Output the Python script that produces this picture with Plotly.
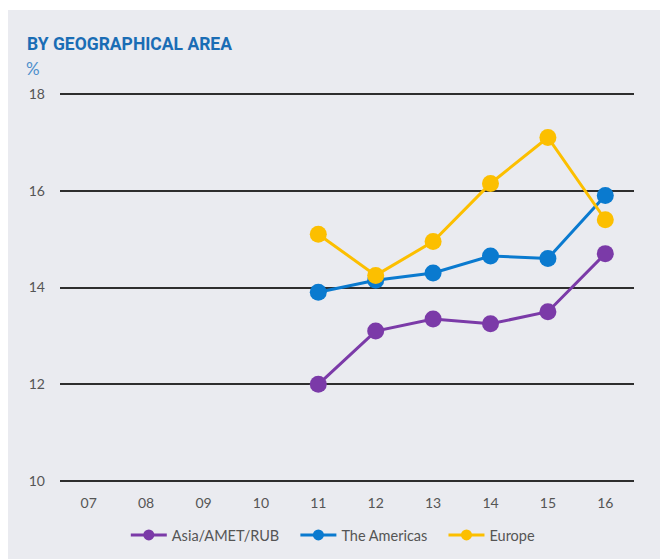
import plotly.graph_objects as go

years = ["07", "08", "09", "10", "11", "12", "13", "14", "15", "16"]
asia = [None, None, None, None, 12.0, 13.1, 13.35, 13.25, 13.5, 14.7]
americas = [None, None, None, None, 13.9, 14.15, 14.3, 14.65, 14.6, 15.9]
europe = [None, None, None, None, 15.1, 14.25, 14.95, 16.15, 17.1, 15.4]

series = [
    ("Asia/AMET/RUB", asia, "#7b3aa8"),
    ("The Americas", americas, "#0a7acf"),
    ("Europe", europe, "#fcbf00"),
]
# trailing spaces widen the gap after each legend item
legend_pad = [3, 3, 0]

W, H = 660, 559
ML, MR, MT, MB = 60, 26, 92, 76
PW, PH = W - ML - MR, H - MT - MB

fig = go.Figure()
for name, vals, color in series:
    fig.add_trace(go.Scatter(
        x=years, y=vals, name=name, mode="lines+markers", showlegend=False,
        line=dict(color=color, width=3),
        marker=dict(color=color, size=17),
        cliponaxis=False,
    ))
# legend entries with smaller symbols
for (name, vals, color), pad in zip(series, legend_pad):
    fig.add_trace(go.Scatter(
        x=[None], y=[None], name=name + "\u00a0" * pad, mode="lines+markers",
        line=dict(color=color, width=3),
        marker=dict(color=color, size=11),
    ))

fig.update_layout(
    width=W, height=H,
    margin=dict(l=ML, r=MR, t=MT, b=MB, autoexpand=False),
    paper_bgcolor="white",
    plot_bgcolor="rgba(0,0,0,0)",
    font=dict(family="Lato, Open Sans, sans-serif", size=14, color="#555555"),
    showlegend=True,
    legend=dict(orientation="h", xref="container", x=0.505, xanchor="center",
                yref="container", y=1 - 535 / H, yanchor="middle",
                font=dict(size=14.5, color="#555555"), itemwidth=36,
                bgcolor="rgba(0,0,0,0)"),
    xaxis=dict(type="category", range=[-0.5, 9.5], showgrid=False, zeroline=False,
               showline=False, ticks="", tickfont=dict(size=14, color="#555555"),
               ticklabelstandoff=10, automargin=False),
    yaxis=dict(range=[9.96, 18.04], tickvals=[10, 12, 14, 16, 18], showgrid=True,
               gridcolor="#2e2e2e", gridwidth=2, zeroline=False, showline=False,
               ticks="", tickfont=dict(size=14, color="#555555"),
               ticklabelstandoff=14, automargin=False),
    shapes=[dict(type="rect", xref="paper", yref="paper", layer="below",
                 x0=(8 - ML) / PW, x1=(W - ML) / PW + 0.01,
                 y0=-(MB + 5) / PH, y1=1 + (MT - 10) / PH,
                 fillcolor="#eaebf0", line=dict(width=0))],
    annotations=[
        dict(text="<b>BY GEOGRAPHICAL AREA</b>", xref="paper", yref="paper",
             x=(25 - ML) / PW, y=1 + (MT - 44) / PH,
             xanchor="left", yanchor="middle", showarrow=False,
             font=dict(family="Roboto, sans-serif", size=17.5, color="#1a6db5")),
        dict(text="%", xref="paper", yref="paper",
             x=(24 - ML) / PW, y=1 + (MT - 68) / PH,
             xanchor="left", yanchor="middle", showarrow=False,
             font=dict(family="Lato, sans-serif", size=17, color="#4d8fcc")),
    ],
)

fig.write_html("out.html")
